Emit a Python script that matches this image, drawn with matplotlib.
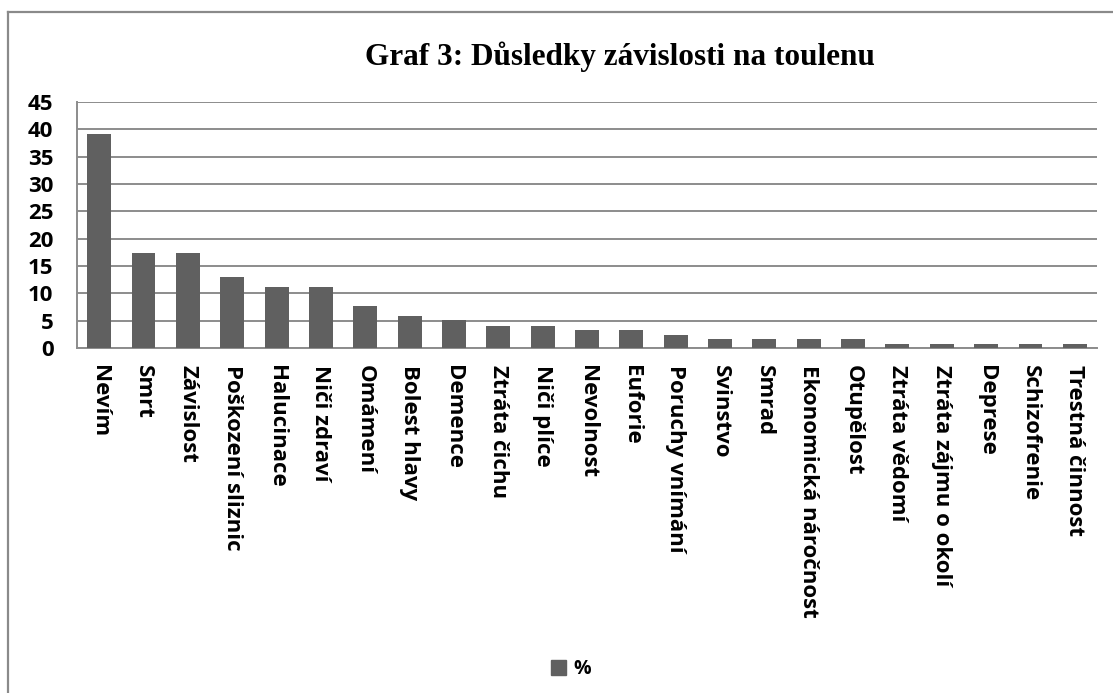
import matplotlib
matplotlib.use("Agg")
import matplotlib.pyplot as plt
from matplotlib.lines import Line2D
from matplotlib.patches import Patch

categories = ["Nevím", "Smrt", "Závislost", "Poškození sliznic", "Halucinace",
              "Niči zdraví", "Omámení", "Bolest hlavy", "Demence", "Ztráta čichu",
              "Niči plíce", "Nevolnost", "Euforie", "Poruchy vnímání", "Svinstvo",
              "Smrad", "Ekonomická náročnost", "Otupělost", "Ztráta vědomí",
              "Ztráta zájmu o okolí", "Deprese", "Schizofrenie", "Trestná činnost"]
values = [39.1, 17.3, 17.3, 12.9, 11.1, 11.1, 7.6, 5.9, 5.1, 4.1, 4.1, 3.3, 3.3,
          2.4, 1.6, 1.6, 1.6, 1.6, 0.8, 0.8, 0.8, 0.8, 0.8]
yticks = [0, 5, 10, 15, 20, 25, 30, 35, 40, 45]
title = "Graf 3: Důsledky závislosti na toulenu"
series_name = "%"

W, H = 1113, 693
fig = plt.figure(figsize=(W / 100, H / 100), dpi=100)
fig.patch.set_facecolor("white")

# outer frame (left and top edges visible)
frame_c = "#8a8a8a"
fig.add_artist(Line2D([7.5 / W, 7.5 / W], [0, 1 - 12 / H], transform=fig.transFigure,
                      color=frame_c, lw=1.6))
fig.add_artist(Line2D([7.5 / W, 1], [1 - 12 / H, 1 - 12 / H], transform=fig.transFigure,
                      color=frame_c, lw=1.6))

left, right, top, bottom = 77, 1097, 102, 348
ax = fig.add_axes([left / W, 1 - bottom / H, (right - left) / W, (bottom - top) / H])

bar_color = "#606060"
x = list(range(len(categories)))
ax.bar(x, values, width=0.54, color=bar_color, zorder=3, label=series_name)
ax.set_xlim(-0.5, len(categories) - 0.5)
ax.set_ylim(0, 45)
ax.set_yticks(yticks)
ax.set_yticklabels([str(t) for t in yticks])
ax.yaxis.grid(True, color="#8c8c8c", lw=1.4, zorder=0)
ax.set_axisbelow(True)
for s in ["top", "right"]:
    ax.spines[s].set_visible(False)
for s in ["left", "bottom"]:
    ax.spines[s].set_color("#8c8c8c")
    ax.spines[s].set_linewidth(1.4)

ax.set_xticks(x)
ax.set_xticklabels(categories, rotation=-90, ha="center", va="top",
                   fontfamily="Open Sans", fontweight="bold", fontsize=16)
ax.tick_params(axis="x", length=0, pad=12)
ax.tick_params(axis="y", length=0, pad=17)
for lab in ax.get_yticklabels():
    lab.set_fontfamily("Open Sans")
    lab.set_fontweight("bold")
    lab.set_fontsize(16)

fig.text(620 / W, 1 - 57 / H, title, ha="center", va="center",
         fontfamily="Liberation Serif", fontweight="bold", fontsize=22.5)

handles = [Patch(facecolor=bar_color, edgecolor=bar_color)]
fig.legend(handles, [series_name], loc="center", bbox_to_anchor=(571 / W, 1 - 669 / H),
           frameon=False, handlelength=0.8, handleheight=0.8, handletextpad=0.4,
           prop={"family": "Open Sans", "weight": "bold", "size": 14})

fig.savefig("out.png", dpi=100, facecolor="white")
